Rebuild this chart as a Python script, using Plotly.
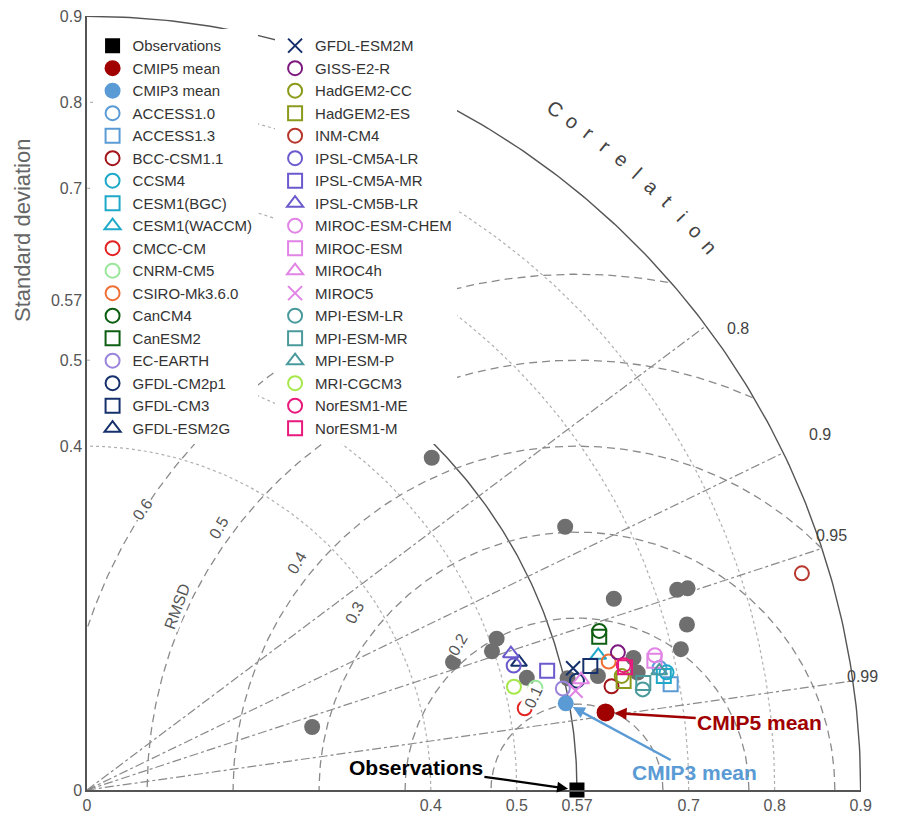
import numpy as np
import plotly.graph_objects as go

FONT = "Liberation Sans, Arial, sans-serif"

# ---- reference + ensemble means (std, correlation) ----
obs_std = 0.57
mean_names = ["CMIP5 mean", "CMIP3 mean"]
mean_std = [0.610, 0.566]
mean_corr = [0.989, 0.984]

# ---- CMIP5 models ----
model_names = [
    "ACCESS1.0", "ACCESS1.3", "BCC-CSM1.1", "CCSM4", "CESM1(BGC)", "CESM1(WACCM)",
    "CMCC-CM", "CNRM-CM5", "CSIRO-Mk3.6.0", "CanCM4", "CanESM2", "EC-EARTH",
    "GFDL-CM2p1", "GFDL-CM3", "GFDL-ESM2G", "GFDL-ESM2M", "GISS-E2-R", "HadGEM2-CC",
    "HadGEM2-ES", "INM-CM4", "IPSL-CM5A-LR", "IPSL-CM5A-MR", "IPSL-CM5B-LR",
    "MIROC-ESM-CHEM", "MIROC-ESM", "MIROC4h", "MIROC5", "MPI-ESM-LR", "MPI-ESM-MR",
    "MPI-ESM-P", "MRI-CGCM3", "NorESM1-ME", "NorESM1-M",
]
model_std = [
    0.681, 0.690, 0.622, 0.688, 0.684, 0.615,
    0.518, 0.535, 0.625, 0.624, 0.622, 0.566,
    0.584, 0.603, 0.524, 0.583, 0.638, 0.636,
    0.637, 0.869, 0.517, 0.553, 0.518,
    0.679, 0.677, 0.589, 0.580, 0.657, 0.659,
    0.680, 0.511, 0.641, 0.642,
]
model_corr = [
    0.978, 0.984, 0.981, 0.980, 0.981, 0.967,
    0.983, 0.975, 0.971, 0.955, 0.958, 0.978,
    0.976, 0.971, 0.959, 0.970, 0.968, 0.978,
    0.980, 0.957, 0.960, 0.968, 0.952,
    0.973, 0.975, 0.976, 0.980, 0.984, 0.982,
    0.979, 0.972, 0.974, 0.975,
]

# ---- CMIP3 models (grey dots) ----
cmip3_std = [0.557, 0.635, 0.652, 0.725, 0.737, 0.724, 0.710, 0.508,
             0.498, 0.451, 0.272, 0.528, 0.574, 0.609, 0.654, 0.655]
cmip3_corr = [0.720, 0.876, 0.940, 0.947, 0.948, 0.964, 0.973, 0.938,
              0.946, 0.944, 0.963, 0.969, 0.974, 0.976, 0.972, 0.978]

std_ticks = [0, 0.4, 0.5, 0.57, 0.7, 0.8, 0.9]
std_dotted = [0.4, 0.5, 0.7, 0.8]
corr_ticks = [0.8, 0.9, 0.95, 0.99]
rmsd_levels = [0.1, 0.2, 0.3, 0.4, 0.5, 0.6]
std_max = 0.9

# styles
C_ACC, C_CCSM, C_CAN, C_GFDL = "#5b9bd5", "#1fa9c9", "#0e5e12", "#16306b"
C_HAD, C_IPSL, C_MIROC, C_MPI, C_NOR = "#8c9a1c", "#6a5acd", "#e184e6", "#4a9a9c", "#e8197d"
model_colors = [
    C_ACC, C_ACC, "#a3151a", C_CCSM, C_CCSM, C_CCSM,
    "#e32222", "#9ae69a", "#ef6f35", C_CAN, C_CAN, "#9b85dc",
    C_GFDL, C_GFDL, C_GFDL, C_GFDL, "#7d1a7e", C_HAD,
    C_HAD, "#b8372d", C_IPSL, C_IPSL, C_IPSL,
    C_MIROC, C_MIROC, C_MIROC, C_MIROC, C_MPI, C_MPI,
    C_MPI, "#a6e84a", C_NOR, C_NOR,
]
model_symbols = [
    "circle-open", "square-open", "circle-open", "circle-open", "square-open", "triangle-up-open",
    "circle-open", "circle-open", "circle-open", "circle-open", "square-open", "circle-open",
    "circle-open", "square-open", "triangle-up-open", "x-thin-open", "circle-open", "circle-open",
    "square-open", "circle-open", "circle-open", "square-open", "triangle-up-open",
    "circle-open", "square-open", "triangle-up-open", "x-thin-open", "circle-open", "square-open",
    "triangle-up-open", "circle-open", "circle-open", "square-open",
]
GRID = "#8a8a8a"

# label placement (data units)
corr_lab_x = [0.757, 0.852, 0.866, 0.902]
corr_lab_y = [0.537, 0.413, 0.2965, 0.1314]
rmsd_lab_x = [0.5186, 0.4314, 0.3116, 0.2279, 0.1372, 0.0477]
rmsd_lab_y = [0.0907, 0.1512, 0.1884, 0.2465, 0.2872, 0.3256]
rmsd_lab_ang = [-65, -60, -62, -60, -60, -55]


def to_xy(std, corr):
    std = np.asarray(std, float)
    corr = np.asarray(corr, float)
    return std * corr, std * np.sqrt(1 - corr ** 2)


def paper_ann(x, y, **kw):
    # data units -> paper fraction (axes run 0..std_max on both sides)
    fig.add_annotation(x=x / std_max, y=y / std_max, xref="paper", yref="paper", **kw)


fig = go.Figure()
th = np.linspace(0, np.pi / 2, 200)

# std arcs
for s in std_dotted:
    fig.add_trace(go.Scatter(x=s * np.cos(th), y=s * np.sin(th), mode="lines",
                             line=dict(color="#b0b0b0", width=1.2, dash="dot"),
                             hoverinfo="skip", showlegend=False))
th_obs = np.linspace(0, np.pi / 4, 120)
fig.add_trace(go.Scatter(x=obs_std * np.cos(th_obs), y=obs_std * np.sin(th_obs), mode="lines",
                         line=dict(color="#555", width=1.4), hoverinfo="skip", showlegend=False))
fig.add_trace(go.Scatter(x=std_max * np.cos(th), y=std_max * np.sin(th), mode="lines",
                         line=dict(color="#555", width=1.4), hoverinfo="skip", showlegend=False))

# correlation rays
for c, lx, ly in zip(corr_ticks, corr_lab_x, corr_lab_y):
    ex, ey = to_xy(std_max, c)
    fig.add_trace(go.Scatter(x=[0, ex], y=[0, ey], mode="lines",
                             line=dict(color=GRID, width=1.2, dash="dashdot"),
                             hoverinfo="skip", showlegend=False))
    paper_ann(lx, ly, text=str(c), showarrow=False, xanchor="center", yanchor="middle",
              font=dict(family=FONT, size=16, color="#444"))

# RMSD circles
tc = np.linspace(0, np.pi, 400)
for r in rmsd_levels:
    cx = obs_std + r * np.cos(tc)
    cy = r * np.sin(tc)
    inside = (cx >= 0) & (np.hypot(cx, cy) <= std_max)
    fig.add_trace(go.Scatter(x=np.where(inside, cx, np.nan), y=np.where(inside, cy, np.nan),
                             mode="lines", line=dict(color=GRID, width=1.3, dash="8px,5px"),
                             hoverinfo="skip", showlegend=False, connectgaps=False))

for r, lx, ly, a in zip(rmsd_levels, rmsd_lab_x, rmsd_lab_y, rmsd_lab_ang):
    paper_ann(lx, ly, text=str(r), showarrow=False, textangle=a, bgcolor="white", borderpad=0,
              font=dict(family=FONT, size=16, color="#555"))
paper_ann(0.0849, 0.1826, text="RMSD", showarrow=False, textangle=-70, bgcolor="white",
          borderpad=0, font=dict(family=FONT, size=16, color="#555"))

# "Correlation" along the outer arc
word = "Correlation"
angs = np.linspace(55.5, 41.1, len(word))
for ch, a in zip(word, angs):
    ar = np.radians(a)
    paper_ann(0.961 * np.cos(ar), 0.961 * np.sin(ar), text=ch, showarrow=False,
              xanchor="center", yanchor="middle",
              textangle=90 - a, font=dict(family=FONT, size=20, color="#444"))

# CMIP3 models (grey)
gx, gy = to_xy(cmip3_std, cmip3_corr)
fig.add_trace(go.Scatter(x=gx, y=gy, mode="markers",
                         marker=dict(color="#6f6f6f", size=16),
                         showlegend=False, hoverinfo="skip"))

# CMIP5 models
mx, my = to_xy(model_std, model_corr)
for i, name in enumerate(model_names):
    leg = "legend" if i < 15 else "legend2"
    fig.add_trace(go.Scatter(
        x=[mx[i]], y=[my[i]], mode="markers", name=name, legend=leg, legendrank=10 + i,
        marker=dict(symbol=model_symbols[i], color=model_colors[i], size=14,
                    line=dict(color=model_colors[i], width=2)),
    ))

# means and observations
ex_, ey_ = to_xy(mean_std, mean_corr)
mean_colors = ["#a00000", "#5b9bd5"]
mean_sizes = [18, 16]
for i, name in enumerate(mean_names):
    fig.add_trace(go.Scatter(x=[ex_[i]], y=[ey_[i]], mode="markers", name=name,
                             legend="legend", legendrank=2 + i,
                             marker=dict(color=mean_colors[i], size=mean_sizes[i])))
fig.add_trace(go.Scatter(x=[obs_std], y=[0], mode="markers", name="Observations",
                         legend="legend", legendrank=1, cliponaxis=False,
                         marker=dict(symbol="square", color="black", size=15)))

# call-outs
fig.add_annotation(x=obs_std, y=0, ax=0.3826, ay=0.0267, axref="x", ayref="y",
                   text="<b>Observations</b>", font=dict(family=FONT, size=21, color="black"),
                   arrowhead=2, arrowsize=1, arrowwidth=2.2, arrowcolor="black", standoff=9)
fig.add_annotation(x=ex_[0], y=ey_[0], ax=0.7826, ay=0.0791, axref="x", ayref="y",
                   text="<b>CMIP5 mean</b>", font=dict(family=FONT, size=21, color="#a00000"),
                   arrowhead=2, arrowsize=1, arrowwidth=2.4, arrowcolor="#a00000", standoff=9)
fig.add_annotation(x=ex_[1], y=ey_[1], ax=0.707, ay=0.0198, axref="x", ayref="y",
                   text="<b>CMIP3 mean</b>", font=dict(family=FONT, size=21, color="#5b9bd5"),
                   arrowhead=2, arrowsize=1, arrowwidth=2.4, arrowcolor="#5b9bd5", standoff=8)

fig.add_annotation(x=-0.084, y=0.7235, xref="paper", yref="paper", text="Standard deviation",
                   showarrow=False, textangle=-90, xanchor="center", yanchor="middle",
                   font=dict(family=FONT, size=22, color="#666"))

axis_common = dict(range=[0, std_max + 0.0004], showgrid=False, zeroline=False, showline=True,
                   linecolor="#555", linewidth=1.5, tickvals=std_ticks,
                   ticktext=[str(t) for t in std_ticks], ticks="", automargin=False,
                   ticklabeloverflow="allow",
                   tickfont=dict(family=FONT, size=16, color="#555"))
fig.update_layout(
    width=904, height=812,
    margin=dict(l=79, r=51, t=8, b=30),
    plot_bgcolor="white", paper_bgcolor="white",
    xaxis=dict(**axis_common),
    yaxis=dict(**axis_common),
    showlegend=True,
    legend=dict(x=0.0072, y=0.9827, xanchor="left", yanchor="top", bgcolor="white",
                font=dict(family=FONT, size=15, color="#333"), tracegroupgap=0),
    legend2=dict(x=0.243, y=0.9827, xanchor="left", yanchor="top", bgcolor="white",
                 font=dict(family=FONT, size=15, color="#333"), tracegroupgap=0),
)

fig.write_html("out.html")
